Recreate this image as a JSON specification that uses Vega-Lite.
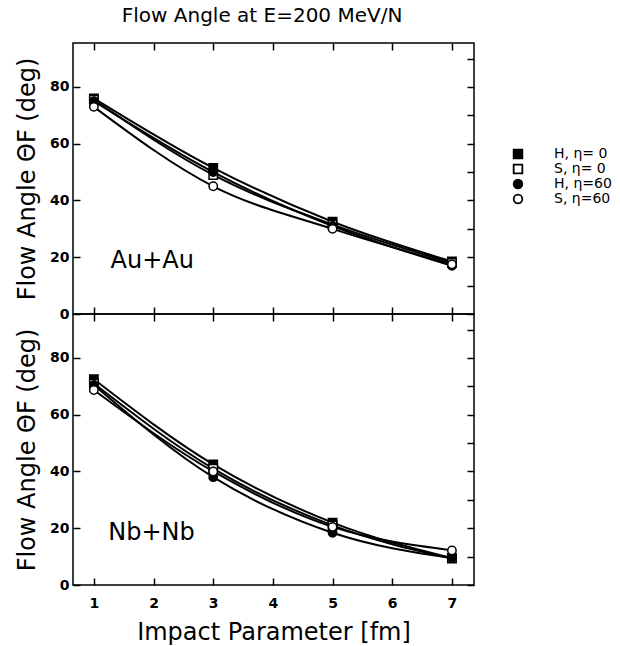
{
  "$schema": "https://vega.github.io/schema/vega-lite/v6.json",
  "background": "white",
  "padding": {"left": 14, "top": 5, "right": 5, "bottom": 0},
  "bounds": "flush",
  "title": {"text": "Flow Angle at E=200 MeV/N", "font": "DejaVu Sans", "fontSize": 20, "fontWeight": "normal", "color": "black", "anchor": "start", "dx": 107, "offset": 16},
  "datasets": {
    "pts": [
      {"panel": "Au+Au", "series": "H, η= 0", "b": 1, "theta": 76},
      {"panel": "Au+Au", "series": "H, η= 0", "b": 3, "theta": 51.5},
      {"panel": "Au+Au", "series": "H, η= 0", "b": 5, "theta": 32.5},
      {"panel": "Au+Au", "series": "H, η= 0", "b": 7, "theta": 18.5},
      {"panel": "Au+Au", "series": "S, η= 0", "b": 1, "theta": 75.5},
      {"panel": "Au+Au", "series": "S, η= 0", "b": 3, "theta": 49},
      {"panel": "Au+Au", "series": "S, η= 0", "b": 5, "theta": 31.5},
      {"panel": "Au+Au", "series": "S, η= 0", "b": 7, "theta": 18},
      {"panel": "Au+Au", "series": "H, η=60", "b": 1, "theta": 75},
      {"panel": "Au+Au", "series": "H, η=60", "b": 3, "theta": 50},
      {"panel": "Au+Au", "series": "H, η=60", "b": 5, "theta": 31},
      {"panel": "Au+Au", "series": "H, η=60", "b": 7, "theta": 17},
      {"panel": "Au+Au", "series": "S, η=60", "b": 1, "theta": 73},
      {"panel": "Au+Au", "series": "S, η=60", "b": 3, "theta": 45},
      {"panel": "Au+Au", "series": "S, η=60", "b": 5, "theta": 30},
      {"panel": "Au+Au", "series": "S, η=60", "b": 7, "theta": 17.5},
      {"panel": "Nb+Nb", "series": "H, η= 0", "b": 1, "theta": 72.5},
      {"panel": "Nb+Nb", "series": "H, η= 0", "b": 3, "theta": 42.5},
      {"panel": "Nb+Nb", "series": "H, η= 0", "b": 5, "theta": 22},
      {"panel": "Nb+Nb", "series": "H, η= 0", "b": 7, "theta": 9.5},
      {"panel": "Nb+Nb", "series": "S, η= 0", "b": 1, "theta": 71},
      {"panel": "Nb+Nb", "series": "S, η= 0", "b": 3, "theta": 41},
      {"panel": "Nb+Nb", "series": "S, η= 0", "b": 5, "theta": 21},
      {"panel": "Nb+Nb", "series": "S, η= 0", "b": 7, "theta": 9.3},
      {"panel": "Nb+Nb", "series": "H, η=60", "b": 1, "theta": 70.5},
      {"panel": "Nb+Nb", "series": "H, η=60", "b": 3, "theta": 38},
      {"panel": "Nb+Nb", "series": "H, η=60", "b": 5, "theta": 18.4},
      {"panel": "Nb+Nb", "series": "H, η=60", "b": 7, "theta": 9.5},
      {"panel": "Nb+Nb", "series": "S, η=60", "b": 1, "theta": 68.7},
      {"panel": "Nb+Nb", "series": "S, η=60", "b": 3, "theta": 40},
      {"panel": "Nb+Nb", "series": "S, η=60", "b": 5, "theta": 20.5},
      {"panel": "Nb+Nb", "series": "S, η=60", "b": 7, "theta": 12.2}
    ],
    "labels": [
      {"panel": "Au+Au", "b": 1.28, "theta": 18.7, "label": "Au+Au"},
      {"panel": "Nb+Nb", "b": 1.24, "theta": 18.3, "label": "Nb+Nb"}
    ]
  },
  "config": {
    "view": {"stroke": "black", "strokeWidth": 1.5},
    "axis": {"domain": false, "grid": false, "tickColor": "black", "tickWidth": 1.5, "tickSize": -7, "labelFont": "DejaVu Sans", "labelFontSize": 14, "labelFontWeight": "bold", "labelColor": "black", "titleFont": "DejaVu Sans", "titleFontSize": 24, "titleFontWeight": "normal", "titleColor": "black"},
    "legend": {"labelFont": "DejaVu Sans", "labelFontSize": 14, "labelColor": "black"}
  },
  "spacing": 0,
  "resolve": {"legend": {"shape": "independent", "fill": "independent"}},
  "vconcat": [
    {
      "width": 401,
      "height": 271,
      "resolve": {"axis": {"x": "independent", "y": "independent"}},
      "layer": [
        {
          "layer": [
            {
              "data": {"name": "pts"},
              "transform": [{"filter": "datum.panel == 'Au+Au'"}],
              "mark": {"type": "line", "interpolate": "monotone", "color": "black", "strokeWidth": 2},
              "encoding": {
                "x": {"field": "b", "type": "quantitative", "scale": {"domain": [0.65, 7.37], "nice": false, "zero": false}, "axis": {"orient": "bottom", "values": [1, 2, 3, 4, 5, 6, 7], "labels": false, "title": null, "minExtent": 0, "maxExtent": 0}},
                "y": {"field": "theta", "type": "quantitative", "scale": {"domain": [0, 95.5], "nice": false}, "axis": {"orient": "left", "values": [0, 10, 20, 30, 40, 50, 60, 70, 80, 90], "labelExpr": "datum.value % 20 == 0 ? datum.label : ''", "labelPadding": 11, "title": "Flow Angle ΘF (deg)", "titlePadding": 10}},
                "detail": {"field": "series"}
              }
            },
            {
              "data": {"name": "pts"},
              "transform": [{"filter": "datum.panel == 'Au+Au'"}],
              "mark": {"type": "point", "filled": true, "stroke": "black", "strokeWidth": 1.5, "size": 70, "opacity": 1},
              "encoding": {
                "x": {"field": "b", "type": "quantitative"},
                "y": {"field": "theta", "type": "quantitative"},
                "shape": {"field": "series", "type": "nominal", "scale": {"domain": ["H, η= 0", "S, η= 0", "H, η=60", "S, η=60"], "range": ["square", "square", "circle", "circle"]}, "legend": {"title": null, "orient": "none", "legendX": 438, "legendY": 104, "rowPadding": -1, "symbolSize": 75, "symbolStrokeWidth": 1.8, "labelOffset": 29}},
                "fill": {"field": "series", "type": "nominal", "scale": {"domain": ["H, η= 0", "S, η= 0", "H, η=60", "S, η=60"], "range": ["black", "white", "black", "white"]}, "legend": {"title": null, "orient": "none", "legendX": 438, "legendY": 104, "rowPadding": -1, "symbolSize": 75, "symbolStrokeWidth": 1.8, "labelOffset": 29}}
              }
            },
            {
              "data": {"name": "labels"},
              "transform": [{"filter": "datum.panel == 'Au+Au'"}],
              "mark": {"type": "text", "align": "left", "baseline": "middle", "font": "DejaVu Sans", "fontSize": 24, "color": "black"},
              "encoding": {
                "x": {"field": "b", "type": "quantitative"},
                "y": {"field": "theta", "type": "quantitative"},
                "text": {"field": "label"}
              }
            }
          ]
        },
        {
          "data": {"name": "pts"},
          "transform": [{"filter": "datum.panel == 'Au+Au'"}],
          "mark": {"type": "point", "opacity": 0},
          "encoding": {
            "x": {"field": "b", "type": "quantitative", "axis": {"orient": "top", "values": [1, 2, 3, 4, 5, 6, 7], "labels": false, "title": null, "minExtent": 0, "maxExtent": 0}},
            "y": {"field": "theta", "type": "quantitative", "axis": {"orient": "right", "values": [0, 10, 20, 30, 40, 50, 60, 70, 80, 90], "labels": false, "title": null, "minExtent": 0, "maxExtent": 0}}
          }
        }
      ]
    },
    {
      "width": 401,
      "height": 271,
      "resolve": {"axis": {"x": "independent", "y": "independent"}},
      "layer": [
        {
          "layer": [
            {
              "data": {"name": "pts"},
              "transform": [{"filter": "datum.panel == 'Nb+Nb'"}],
              "mark": {"type": "line", "interpolate": "monotone", "color": "black", "strokeWidth": 2},
              "encoding": {
                "x": {"field": "b", "type": "quantitative", "scale": {"domain": [0.65, 7.37], "nice": false, "zero": false}, "axis": {"orient": "bottom", "values": [1, 2, 3, 4, 5, 6, 7], "format": "d", "labelPadding": 18, "title": "Impact Parameter [fm]", "titlePadding": 10}},
                "y": {"field": "theta", "type": "quantitative", "scale": {"domain": [0, 95.5], "nice": false}, "axis": {"orient": "left", "values": [0, 10, 20, 30, 40, 50, 60, 70, 80, 90], "labelExpr": "datum.value % 20 == 0 ? datum.label : ''", "labelPadding": 11, "title": "Flow Angle ΘF (deg)", "titlePadding": 10}},
                "detail": {"field": "series"}
              }
            },
            {
              "data": {"name": "pts"},
              "transform": [{"filter": "datum.panel == 'Nb+Nb'"}],
              "mark": {"type": "point", "filled": true, "stroke": "black", "strokeWidth": 1.5, "size": 70, "opacity": 1},
              "encoding": {
                "x": {"field": "b", "type": "quantitative"},
                "y": {"field": "theta", "type": "quantitative"},
                "shape": {"field": "series", "type": "nominal", "scale": {"domain": ["H, η= 0", "S, η= 0", "H, η=60", "S, η=60"], "range": ["square", "square", "circle", "circle"]}, "legend": null},
                "fill": {"field": "series", "type": "nominal", "scale": {"domain": ["H, η= 0", "S, η= 0", "H, η=60", "S, η=60"], "range": ["black", "white", "black", "white"]}, "legend": null}
              }
            },
            {
              "data": {"name": "labels"},
              "transform": [{"filter": "datum.panel == 'Nb+Nb'"}],
              "mark": {"type": "text", "align": "left", "baseline": "middle", "font": "DejaVu Sans", "fontSize": 24, "color": "black"},
              "encoding": {
                "x": {"field": "b", "type": "quantitative"},
                "y": {"field": "theta", "type": "quantitative"},
                "text": {"field": "label"}
              }
            }
          ]
        },
        {
          "data": {"name": "pts"},
          "transform": [{"filter": "datum.panel == 'Nb+Nb'"}],
          "mark": {"type": "point", "opacity": 0},
          "encoding": {
            "x": {"field": "b", "type": "quantitative", "axis": {"orient": "top", "values": [1, 2, 3, 4, 5, 6, 7], "labels": false, "title": null, "minExtent": 0, "maxExtent": 0}},
            "y": {"field": "theta", "type": "quantitative", "axis": {"orient": "right", "values": [0, 10, 20, 30, 40, 50, 60, 70, 80, 90], "labels": false, "title": null, "minExtent": 0, "maxExtent": 0}}
          }
        }
      ]
    }
  ]
}
